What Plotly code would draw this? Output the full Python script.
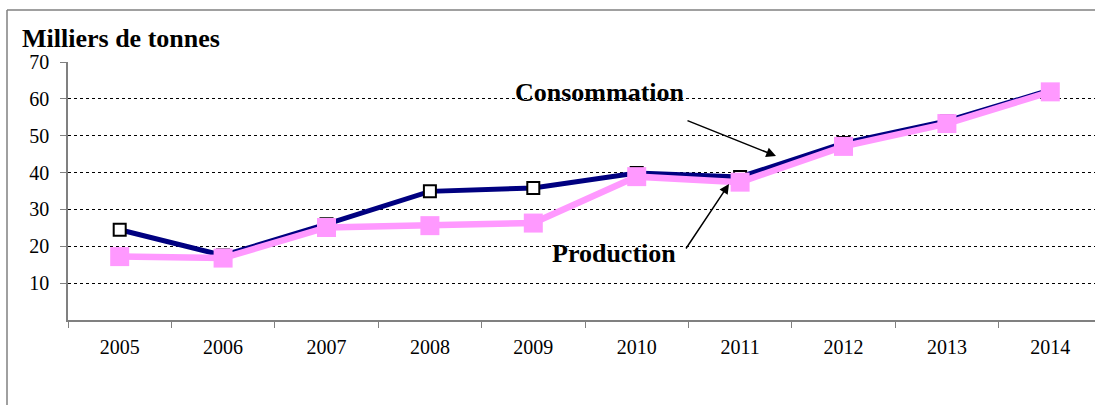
import plotly.graph_objects as go

years = ["2005", "2006", "2007", "2008", "2009", "2010", "2011", "2012", "2013", "2014"]
consommation = [24.5, 17.5, 26.0, 34.9, 35.8, 39.9, 38.8, 48.0, 54.0, 62.4]
production = [17.2, 16.8, 25.1, 25.6, 26.3, 38.9, 37.4, 47.1, 53.3, 61.9]
y_ticks = [10, 20, 30, 40, 50, 60, 70]

W, H = 1095, 405
L, T = 68, 62
B = H - 320
R = 0
pw, ph = W - L - R, H - T - B
def px(x):
    return (x - L) / pw
def py(y):
    return (H - B - y) / ph

fig = go.Figure()
fig.add_trace(go.Scatter(
    x=years, y=consommation, mode="lines+markers", name="Consommation",
    line=dict(color="#000080", width=5),
    marker=dict(symbol="square", size=12, color="white", line=dict(color="black", width=2)),
))
fig.add_trace(go.Scatter(
    x=years, y=production, mode="lines+markers", name="Production",
    line=dict(color="#FF99FF", width=6.5),
    marker=dict(symbol="square", size=19, color="#FF99FF", line=dict(width=0)),
))

font = "Liberation Serif, Times New Roman, serif"
fig.update_layout(
    width=W, height=H, margin=dict(l=L, r=R, t=T, b=B),
    paper_bgcolor="white", plot_bgcolor="white", showlegend=False,
    font=dict(family=font, size=20, color="black"),
    xaxis=dict(type="category", range=[-0.5, 9.5 - 7 / 103.4], tickson="boundaries",
               ticks="outside", ticklen=6, tickcolor="#808080", showgrid=False,
               showline=True, linecolor="#808080", linewidth=1.5,
               ticklabelstandoff=8, tickfont=dict(size=20)),
    yaxis=dict(range=[0, 70], tickvals=y_ticks, ticks="outside", ticklen=6,
               tickcolor="#808080", showgrid=True, gridcolor="black", gridwidth=1,
               griddash="dot", showline=True, linecolor="#808080", linewidth=1.5,
               zeroline=False, ticklabelstandoff=7, tickfont=dict(size=20)),
)

fig.add_shape(type="line", xref="paper", yref="paper", x0=px(7), x1=px(7), y0=py(10), y1=py(430),
              line=dict(color="#808080", width=1.5))
fig.add_shape(type="line", xref="paper", yref="paper", x0=px(7), x1=px(1110), y0=py(10), y1=py(10),
              line=dict(color="#808080", width=1.5))

fig.add_annotation(xref="paper", yref="paper", x=px(20), y=py(38), xanchor="left", yanchor="middle",
                   text="<b>Milliers de tonnes</b>", showarrow=False, font=dict(size=26, family=font))
fig.add_annotation(xref="paper", yref="paper", x=px(600), y=py(92), xanchor="center", yanchor="middle",
                   text="<b>Consommation</b>", showarrow=False, font=dict(size=26, family=font))
fig.add_annotation(xref="paper", yref="paper", x=px(614), y=py(253), xanchor="center", yanchor="middle",
                   text="<b>Production</b>", showarrow=False, font=dict(size=26, family=font))
fig.add_annotation(xref="paper", yref="paper", x=px(776), y=py(156), text="", showarrow=True,
                   ax=-90, ay=-36, arrowhead=2, arrowsize=1.3, arrowwidth=1.5, arrowcolor="black")
fig.add_annotation(xref="paper", yref="paper", x=px(729), y=py(184), text="", showarrow=True,
                   ax=-44, ay=66, arrowhead=2, arrowsize=1.3, arrowwidth=1.5, arrowcolor="black")

fig.write_html("out.html", config={"displayModeBar": False},
               post_script=("document.documentElement.style.overflow='hidden';"
                            "document.body.style.margin='0';document.body.style.overflow='hidden';"))
